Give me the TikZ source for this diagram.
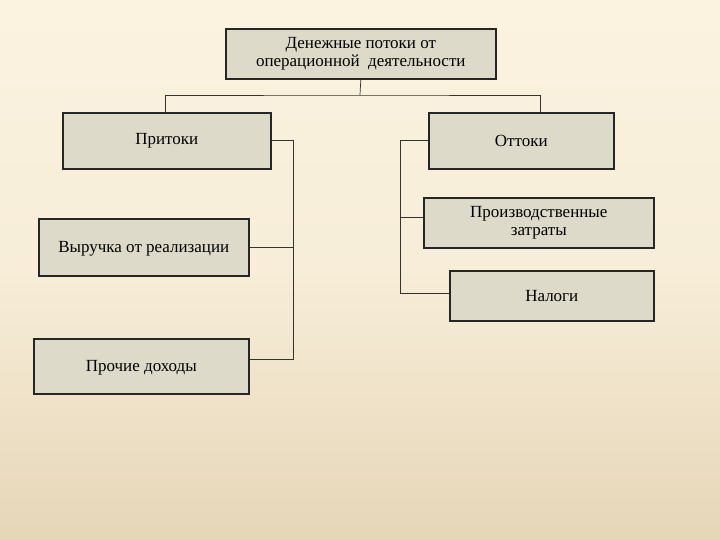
\documentclass[tikz,border=0pt]{standalone}
\usepackage{fontspec}
\setmainfont{Liberation Serif}
\begin{document}
\begin{tikzpicture}[x=1pt,y=-1pt,
  bx/.style={draw=black!85,line width=1.6pt,fill=boxc,inner sep=0pt,anchor=north west,font=\fontsize{17}{18}\selectfont,align=center},
  ln/.style={draw=black!80,line width=0.7pt}]
\definecolor{boxc}{HTML}{DDDAC9}
\definecolor{bgtop}{HTML}{FBF3E0}
\definecolor{bgbot}{HTML}{E6D6B8}
\shade[top color=bgtop,bottom color=bgbot,middle color=bgtop!80!bgbot] (0,0) rectangle (720,540);
\useasboundingbox (0,0) rectangle (720,540);
\node[bx,minimum width=270pt,minimum height=50pt] (top) at (225,28) {Денежные потоки от\\операционной\ \ деятельности};
\node[bx,minimum width=208pt,minimum height=56pt] (pri) at (62,112) {Притоки};
\node[bx,minimum width=185pt,minimum height=56pt] (ott) at (428,112) {Оттоки};
\node[bx,minimum width=210pt,minimum height=57pt,text depth=-8pt] (vyr) at (38,218) {Выручка от реализации};
\node[bx,minimum width=215pt,minimum height=55pt,text depth=-8pt] (pro) at (33,338) {Прочие доходы};
\node[bx,minimum width=230pt,minimum height=50pt] (prz) at (423,197) {Производственные\\затраты};
\node[bx,minimum width=204pt,minimum height=50pt] (nal) at (449,270) {Налоги};
\coordinate (j) at (360,95);
\draw[ln] (top.south) -- (j);
\draw[ln] (pri.north -| 165,0) |- (j) -| (ott.north -| 540,0);
\draw[ln] (pri.east) -| (293,359) -- (pro.east |- 0,359);
\draw[ln] (293,247) -- (vyr.east |- 0,247);
\draw[ln] (ott.west) -| (400,293) -- (nal.west |- 0,293);
\draw[ln] (400,217) -- (prz.west |- 0,217);
\end{tikzpicture}
\end{document}
